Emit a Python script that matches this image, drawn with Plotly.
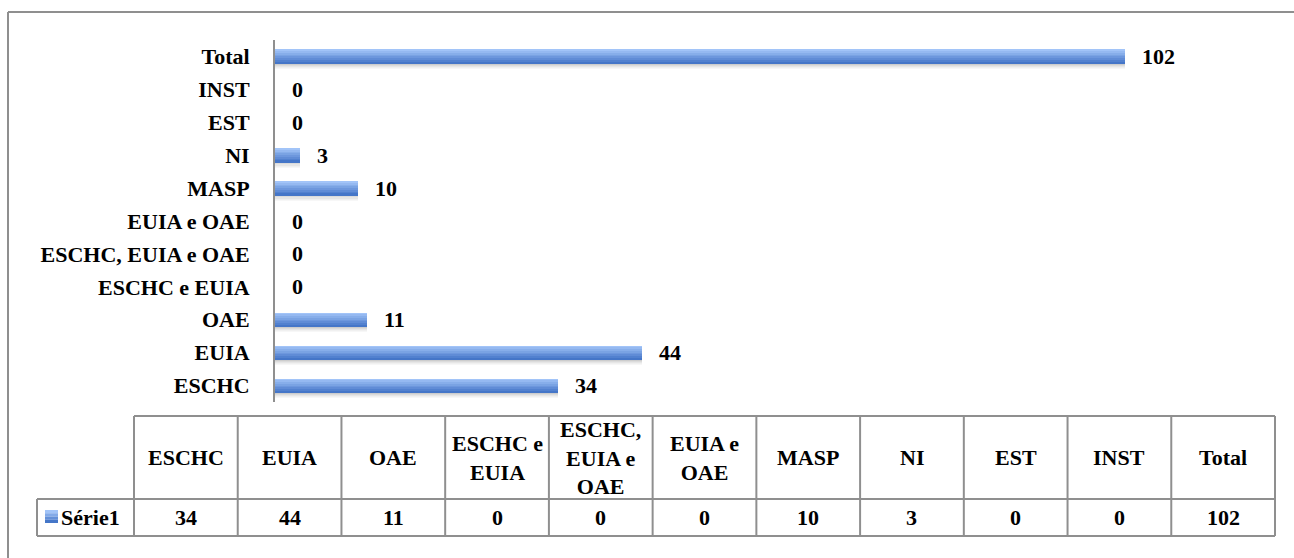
import plotly.graph_objects as go

# Categories (bottom to top on the bar axis, left to right in the table)
categories = ["ESCHC", "EUIA", "OAE", "ESCHC e EUIA", "ESCHC, EUIA e OAE",
              "EUIA e OAE", "MASP", "NI", "EST", "INST", "Total"]
values = [34, 44, 11, 0, 0, 0, 10, 3, 0, 0, 102]
table_headers = ["ESCHC", "EUIA", "OAE", "ESCHC e<br>EUIA", "ESCHC,<br>EUIA e<br>OAE",
                 "EUIA e<br>OAE", "MASP", "NI", "EST", "INST", "Total"]
series_name = "Série1"

W, H = 1294, 558
ML, MR, MT, MB = 275, 19, 40, 156
PW, PH = W - ML - MR, H - MT - MB
FONT = "Liberation Serif"
FSIZE = 22
GRID = "#8f8f8f"


def px(x):
    return (x - ML) / PW


def py(y):
    return (H - MB - y) / PH


def lerp_color(c1, c2, t):
    a = [int(c1[i:i + 2], 16) for i in (1, 3, 5)]
    b = [int(c2[i:i + 2], 16) for i in (1, 3, 5)]
    return "rgb(%d,%d,%d)" % tuple(round(a[k] + (b[k] - a[k]) * t) for k in range(3))


def b(s):
    return "<b>" + s.replace("<br>", "</b><br><b>") + "</b>"


def text_font():
    return dict(family=FONT, size=FSIZE, color="black")


fig = go.Figure()

# Bars: gradient built from thin horizontal slices, with a soft shadow beneath
bar_w = 0.425
n_slices = 8
sw = bar_w / n_slices
shadow_alphas = [0.30, 0.22, 0.15, 0.09, 0.05]
shw = 0.035
for i, a in enumerate(shadow_alphas):
    fig.add_trace(go.Bar(
        x=values, y=categories, orientation="h",
        width=shw, offset=-bar_w / 2 - (i + 1) * shw,
        marker=dict(color="rgba(90,90,90,%.2f)" % a, line=dict(width=0)),
        hoverinfo="skip", showlegend=False))
for i in range(n_slices):
    t = i / (n_slices - 1)
    fig.add_trace(go.Bar(
        x=values, y=categories, orientation="h",
        width=sw * 1.02, offset=bar_w / 2 - (i + 1) * sw,
        marker=dict(color=lerp_color("#a2c4f8", "#4576c8", t), line=dict(width=0)),
        hoverinfo="skip", showlegend=False))

annotations = []
# Value labels at the end of each bar
for c, v in zip(categories, values):
    annotations.append(dict(
        x=v, y=c, xref="x", yref="y", text=b(str(v)), showarrow=False,
        xanchor="left", yanchor="middle", xshift=15, font=text_font()))

# Data table beneath the chart
tbl_left, tbl_right = 134, 1275
tbl_top, tbl_mid, tbl_bot = 416, 499, 536
leg_left = 37
col_w = (tbl_right - tbl_left) / len(categories)

shapes = []
line = dict(color=GRID, width=2)
shapes.append(dict(type="line", xref="paper", yref="paper",
                   x0=px(tbl_left), x1=px(tbl_right), y0=py(tbl_top), y1=py(tbl_top), line=line))
for yy in (tbl_mid, tbl_bot):
    shapes.append(dict(type="line", xref="paper", yref="paper",
                       x0=px(leg_left), x1=px(tbl_right), y0=py(yy), y1=py(yy), line=line))
shapes.append(dict(type="line", xref="paper", yref="paper",
                   x0=px(leg_left), x1=px(leg_left), y0=py(tbl_mid), y1=py(tbl_bot), line=line))
for k in range(len(categories) + 1):
    xx = tbl_left + k * col_w
    shapes.append(dict(type="line", xref="paper", yref="paper",
                       x0=px(xx), x1=px(xx), y0=py(tbl_top), y1=py(tbl_bot), line=line))

for k, (hdr, v) in enumerate(zip(table_headers, values)):
    cx = tbl_left + (k + 0.5) * col_w
    annotations.append(dict(
        x=px(cx), y=py((tbl_top + tbl_mid) / 2), xref="paper", yref="paper",
        text=b(hdr), showarrow=False, xanchor="center", yanchor="middle", align="center",
        font=text_font()))
    annotations.append(dict(
        x=px(cx), y=py((tbl_mid + tbl_bot) / 2), xref="paper", yref="paper",
        text=b(str(v)), showarrow=False, xanchor="center", yanchor="middle",
        font=text_font()))

# Legend key inside the table
key_x0, key_x1, key_y0, key_y1 = 45, 58, 510, 523
n_key = 4
for i in range(n_key):
    y0 = key_y0 + i * (key_y1 - key_y0) / n_key
    y1 = key_y0 + (i + 1) * (key_y1 - key_y0) / n_key
    shapes.append(dict(type="rect", xref="paper", yref="paper",
                       x0=px(key_x0), x1=px(key_x1), y0=py(y0), y1=py(y1),
                       fillcolor=lerp_color("#a2c4f8", "#4576c8", i / (n_key - 1)),
                       line=dict(width=0)))
annotations.append(dict(
    x=px(59), y=py((tbl_mid + tbl_bot) / 2), xref="paper", yref="paper",
    text=b(series_name), showarrow=False, xanchor="left", yanchor="middle",
    font=text_font()))

# Outer chart frame
shapes.append(dict(type="line", xref="paper", yref="paper",
                   x0=px(8), x1=px(W + 5), y0=py(12), y1=py(12), line=line))
shapes.append(dict(type="line", xref="paper", yref="paper",
                   x0=px(8), x1=px(8), y0=py(12), y1=py(H + 5), line=line))

fig.update_layout(
    width=W, height=H,
    margin=dict(l=ML, r=MR, t=MT, b=MB, pad=0),
    paper_bgcolor="white", plot_bgcolor="white",
    barmode="overlay", bargap=0,
    showlegend=False,
    shapes=shapes, annotations=annotations,
    xaxis=dict(range=[0, 120], visible=False),
    yaxis=dict(categoryorder="array", categoryarray=categories,
               tickmode="array", tickvals=categories, ticktext=[b(c) for c in categories],
               range=[-0.5, len(categories) - 0.5],
               showline=True, linecolor=GRID, linewidth=2, mirror=False,
               showgrid=False, zeroline=False, ticks="", ticklabelstandoff=19,
               tickfont=text_font()),
)

fig.write_html("out.html")
